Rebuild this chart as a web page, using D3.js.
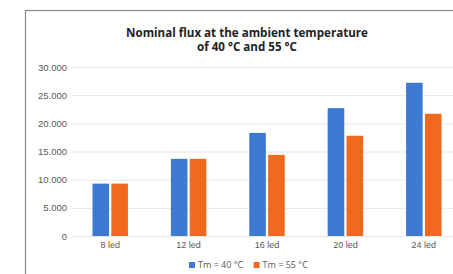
<!DOCTYPE html>
<html>
<head>
<meta charset="utf-8">
<script src="https://cdn.jsdelivr.net/npm/d3@7"></script>
<style>
  body { margin: 0; background: #fff; overflow: hidden; }
  svg { display: block; font-family: "Open Sans", sans-serif; }
</style>
</head>
<body>
<svg id="chart" width="453" height="274"></svg>
<script>
// Data
const categories = ['8 led', '12 led', '16 led', '20 led', '24 led'];
const seriesNames = ['Tm = 40 °C', 'Tm = 55 °C'];
const tm40 = [9300, 13700, 18300, 22700, 27200];
const tm55 = [9300, 13700, 14400, 17800, 21700];
const yTicks = [0, 5000, 10000, 15000, 20000, 25000, 30000];
const titleLines = ['Nominal flux at the ambient temperature', 'of 40 °C and 55 °C'];

const colours = ['#3d7bd2', '#f0691f'];
const svg = d3.select('#chart');

// Chart frame (cropped on the right and bottom)
svg.append('rect')
    .attr('x', 25.5).attr('y', 10.5)
    .attr('width', 460).attr('height', 280)
    .attr('fill', '#fff')
    .attr('stroke', '#8a8a8a')
    .attr('stroke-width', 1.2);

const plot = { left: 71, right: 463, top: 67, bottom: 236 };

const x = d3.scaleBand()
    .domain(categories)
    .range([plot.left, plot.right])
    .paddingInner(0.49)
    .paddingOuter(0.245);

const x1 = d3.scaleBand()
    .domain(seriesNames)
    .range([0, x.bandwidth()])
    .padding(0.12);

const y = d3.scaleLinear()
    .domain([0, 30000])
    .range([plot.bottom, plot.top]);

const fmt = d3.formatLocale({ decimal: ',', thousands: '.', grouping: [3], currency: ['', ''] }).format(',d');

// Y axis with gridlines
const yAxis = d3.axisLeft(y)
    .tickValues(yTicks)
    .tickSize(-(plot.right - plot.left))
    .tickPadding(4)
    .tickFormat(fmt);

const yg = svg.append('g')
    .attr('transform', `translate(${plot.left},0)`)
    .call(yAxis);
yg.select('.domain').remove();
yg.selectAll('.tick line').attr('stroke', '#e6e6e6');
yg.selectAll('.tick text')
    .attr('fill', '#595959')
    .style('font-size', '9.5px');

// Bars
const rows = categories.map((c, i) => ({ cat: c, values: [tm40[i], tm55[i]] }));

const groups = svg.append('g')
    .selectAll('g.cat')
    .data(rows)
    .enter()
    .append('g')
    .attr('class', 'cat')
    .attr('transform', (d) => `translate(${x(d.cat)},0)`);

groups.selectAll('rect')
    .data((d) => d.values.map((v, i) => ({ name: seriesNames[i], v, i })))
    .enter()
    .append('rect')
    .attr('x', (d) => x1(d.name))
    .attr('y', (d) => y(d.v))
    .attr('width', x1.bandwidth())
    .attr('height', (d) => y(0) - y(d.v))
    .attr('fill', (d) => colours[d.i]);

// X axis labels
const xAxis = d3.axisBottom(x).tickSize(0).tickPadding(6);
const xg = svg.append('g')
    .attr('transform', `translate(0,${plot.bottom})`)
    .call(xAxis);
xg.select('.domain').remove();
xg.selectAll('.tick text')
    .attr('fill', '#595959')
    .style('font-size', '9px');

// Title, one text per line
svg.append('g')
    .selectAll('text.title')
    .data(titleLines)
    .enter()
    .append('text')
    .attr('class', 'title')
    .attr('x', 247)
    .attr('y', (d, i) => 37 + i * 14)
    .attr('text-anchor', 'middle')
    .style('font-size', '11.6px')
    .style('font-weight', 'bold')
    .attr('fill', '#222')
    .text((d) => d);

// Legend
const legend = svg.append('g').attr('transform', 'translate(189,268)');
let offset = 0;
seriesNames.forEach((name, i) => {
    const item = legend.append('g').attr('transform', `translate(${offset},0)`);
    item.append('rect')
        .attr('x', 0).attr('y', -6)
        .attr('width', 6).attr('height', 6)
        .attr('fill', colours[i]);
    item.append('text')
        .attr('x', 9)
        .attr('y', 0)
        .attr('fill', '#595959')
        .style('font-size', '9px')
        .text(name);
    offset += item.node().getBBox().width + 10;
});
</script>
</body>
</html>
